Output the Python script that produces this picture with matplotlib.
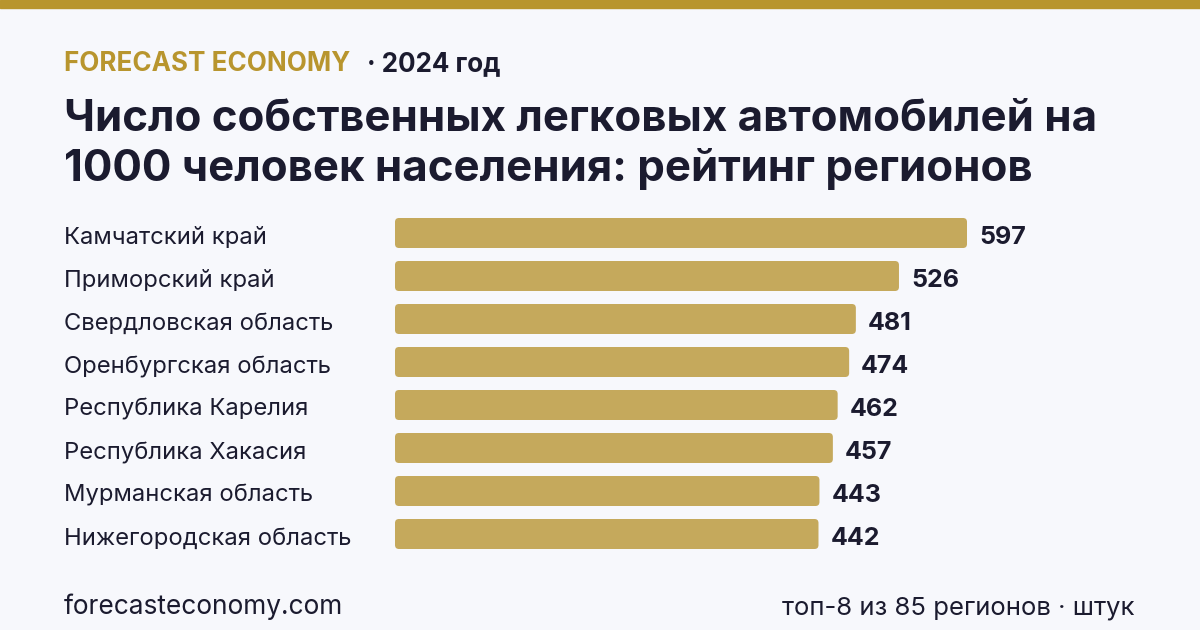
import matplotlib
matplotlib.use("Agg")
import matplotlib.pyplot as plt
from matplotlib.patches import FancyBboxPatch

regions = ["Камчатский край", "Приморский край", "Свердловская область",
           "Оренбургская область", "Республика Карелия", "Республика Хакасия",
           "Мурманская область", "Нижегородская область"]
values = [597, 526, 481, 474, 462, 457, 443, 442]

BG = "#F7F8FC"
GOLD = "#B8952E"
BAR = "#C5A95C"
DARK = "#1B1B2F"
W, H = 1200, 630

plt.rcParams['font.family'] = ['Inter', 'DejaVu Sans']
fig = plt.figure(figsize=(12, 6.3), dpi=100, facecolor=BG)

def px(v):
    return v * 72 / 100

def fx(x):
    return x / W

def fy(y):
    return 1 - y / H

# top strip
fig.patches.append(plt.Rectangle((0, fy(8)), 1, 8 / H, transform=fig.transFigure,
                                 color=GOLD, zorder=0))

# header
fig.text(fx(64), fy(71), "FORECAST ECONOMY", color=GOLD, fontsize=px(26),
         fontweight="bold", va="baseline", ha="left")
fig.text(fx(367), fy(71), "· 2024 год", color=DARK, fontsize=px(26),
         fontweight="bold", va="baseline", ha="left")

fig.text(fx(64), fy(131), "Число собственных легковых автомобилей на", color=DARK,
         fontsize=px(43.8), fontweight="bold", va="baseline", ha="left")
fig.text(fx(64), fy(181), "1000 человек населения: рейтинг регионов", color=DARK,
         fontsize=px(43.8), fontweight="bold", va="baseline", ha="left")

# bars axes
x0_px = 395
scale = (967 - 395) / 597.0
xmax = 700
ax_w = xmax * scale
row = 43.0
top = 233 - row / 2
bottom = top + row * len(values)
ax = fig.add_axes([fx(x0_px), fy(bottom), ax_w / W, (bottom - top) / H])
ax.set_facecolor("none")
ax.set_xlim(0, xmax)
ax.set_ylim(len(values) - 0.5, -0.5)
ax.axis("off")

bar_h = 30 / row
r_px = 4
rx = r_px / scale
ry = r_px / row
for i, (lab, v) in enumerate(zip(regions, values)):
    p = FancyBboxPatch((0, i - bar_h / 2), v, bar_h,
                       boxstyle=f"round,pad=0,rounding_size={rx}",
                       mutation_aspect=ry / rx, facecolor=BAR, edgecolor="none")
    ax.add_patch(p)
    ax.annotate(str(v), (v, i), xytext=(px(12), px(-11)), textcoords="offset points",
                va="baseline", ha="left", fontsize=px(25), fontweight="bold", color=DARK)
    fig.text(fx(64), fy(233 + row * i + 11), lab, color=DARK, fontsize=px(23.8),
             va="baseline", ha="left")

# footer
fig.text(fx(64), fy(614), "forecasteconomy.com", color=DARK, fontsize=px(26.3),
         va="baseline", ha="left")
fig.text(fx(1135), fy(614), "топ-8 из 85 регионов · штук", color=DARK, fontsize=px(25.7),
         va="baseline", ha="right")

fig.savefig("out.png", dpi=100, facecolor=BG)
